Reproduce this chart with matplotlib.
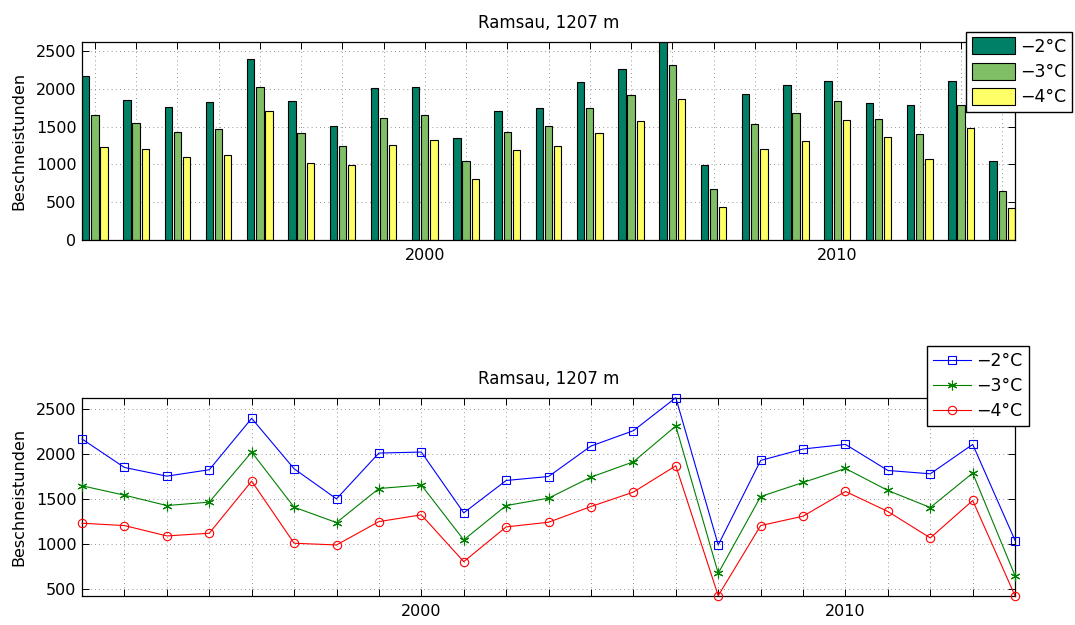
import numpy as np
import matplotlib
matplotlib.use("Agg")
import matplotlib.pyplot as plt

years = np.arange(1992, 2015)
hours_m2 = [2167, 1851, 1755, 1826, 2396, 1837, 1503, 2011, 2022, 1348, 1707, 1751,
            2089, 2259, 2625, 992, 1929, 2056, 2107, 1818, 1781, 2107, 1040]
hours_m3 = [1648, 1544, 1429, 1467, 2022, 1411, 1240, 1618, 1656, 1048, 1429, 1511,
            1744, 1914, 2311, 678, 1529, 1685, 1840, 1596, 1407, 1789, 648]
hours_m4 = [1233, 1207, 1092, 1122, 1700, 1011, 992, 1251, 1326, 807, 1192, 1244,
            1418, 1578, 1870, 429, 1207, 1311, 1585, 1363, 1070, 1485, 426]
labels = ["\u22122\u00b0C", "\u22123\u00b0C", "\u22124\u00b0C"]
title = "Ramsau, 1207 m"
ylabel = "Beschneistunden"
xlabels_at = [2000, 2010]

series = [hours_m2, hours_m3, hours_m4]
bar_colors = ["#008066", "#80bf66", "#ffff66"]
line_styles = [("#0000ff", "s", 5.5), ("#008000", (6, 2, 0), 7), ("#ff0000", "o", 6)]

plt.rcParams["font.family"] = "DejaVu Sans"
plt.rcParams["font.size"] = 11.5

fig = plt.figure(figsize=(10.75, 6.25), dpi=100)
ax1 = fig.add_axes([0.0763, 0.6165, 0.868, 0.3168])
ax2 = fig.add_axes([0.0763, 0.0464, 0.868, 0.3173])


def style_axes(ax):
    ax.set_xticks(years)
    ax.set_xticklabels([str(y) if y in xlabels_at else "" for y in years])
    ax.tick_params(direction="in", top=True, right=True, length=5, width=0.7)
    ax.tick_params(axis="y", pad=4)
    ax.tick_params(axis="x", pad=6)
    ax.grid(True, color="#777777", linestyle=(0, (1, 4)), linewidth=0.6)
    ax.set_axisbelow(True)
    for sp in ax.spines.values():
        sp.set_linewidth(0.9)
    ax.set_title(title, fontsize=12, pad=10)
    ax.set_ylabel(ylabel, labelpad=7)


# grouped bars, three per year
n = len(series)
group_w = n / (n + 1.5)
step = group_w / n
bar_w = 0.8 * step
for i, vals in enumerate(series):
    offset = (i - (n - 1) / 2) * step
    ax1.bar(years + offset, vals, width=bar_w, color=bar_colors[i],
            edgecolor="black", linewidth=0.8, label=labels[i], zorder=2)
ax1.set_xlim(years[0] - step - bar_w / 2, years[-1] + step + bar_w / 2)
ax1.set_ylim(0, max(hours_m2))
ax1.set_yticks(np.arange(0, 2501, 500))
style_axes(ax1)
fig.legend(*ax1.get_legend_handles_labels(), loc="upper right",
           bbox_to_anchor=(0.997, 0.949), bbox_transform=fig.transFigure,
           fancybox=False, edgecolor="black", framealpha=1, borderpad=0.3,
           handlelength=2.5, handleheight=1.15, labelspacing=0.4,
           handletextpad=0.3, borderaxespad=0, fontsize=12.5)

# same series as lines
for i, vals in enumerate(series):
    c, m, ms = line_styles[i]
    ax2.plot(years, vals, color=c, marker=m, markersize=ms, markerfacecolor="none",
             markeredgecolor=c, markeredgewidth=0.8, linewidth=0.8,
             label=labels[i], clip_on=False, zorder=3)
ax2.set_xlim(years[0], years[-1])
ax2.set_ylim(min(hours_m4), max(hours_m2))
ax2.set_yticks(np.arange(500, 2501, 500))
style_axes(ax2)
fig.legend(*ax2.get_legend_handles_labels(), loc="upper right",
           bbox_to_anchor=(0.957, 0.447), bbox_transform=fig.transFigure,
           fancybox=False, edgecolor="black", framealpha=1, borderpad=0.35,
           handlelength=2.2, labelspacing=0.4, handletextpad=0.3,
           borderaxespad=0, fontsize=12.5)

fig.savefig("out.png", dpi=100)
